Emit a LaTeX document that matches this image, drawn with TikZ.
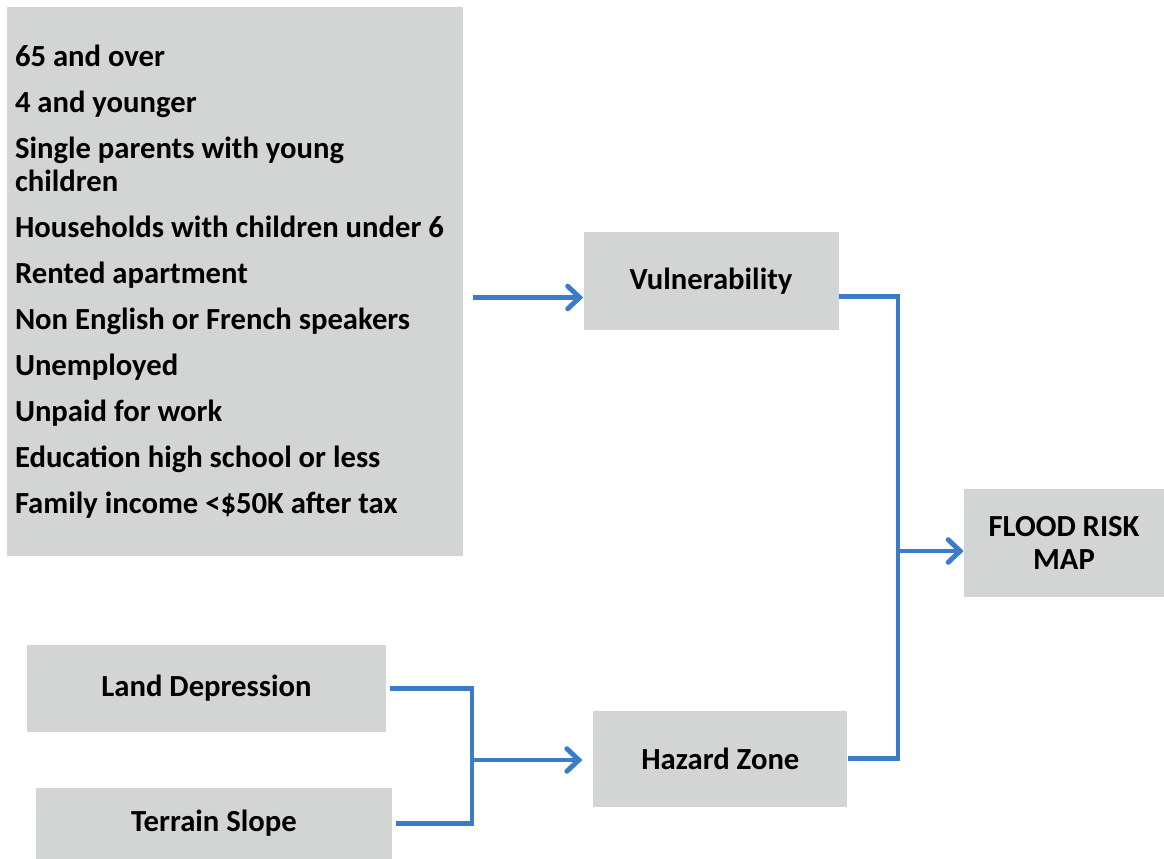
\documentclass[tikz,border=0pt]{standalone}
\usepackage{fontspec}
\setmainfont{Carlito}
\usetikzlibrary{arrows.meta,positioning}
\definecolor{boxgray}{RGB}{211,212,212}
\definecolor{linkblue}{RGB}{58,124,200}

\begin{document}
\begin{tikzpicture}[
    x=0.75pt, y=-0.75pt,
    every node/.style={font=\bfseries\fontsize{23}{24.75}\selectfont},
    box/.style={
        fill=boxgray,
        align=center,
        inner sep=6pt
    },
    link/.style={draw=linkblue, line width=3.7pt},
    arrow/.style={link, -{Straight Barb[length=9pt, width=17pt, line cap=round]}}
  ]
  \useasboundingbox (0,0) rectangle (1164,859);

  % Vulnerability indicators
  \node[box, align=flush left, text width=330pt, minimum height=411.75pt] (factors) at (235,281.5) {65 and over\\[9.75pt]
      4 and younger\\[9.75pt]
      Single parents with young\\children\\[9.75pt]
      Households with children under 6\\[9.75pt]
      Rented apartment\\[9.75pt]
      Non English or French speakers\\[9.75pt]
      Unemployed\\[9.75pt]
      Unpaid for work\\[9.75pt]
      Education high school or less\\[9.75pt]
      Family income <\$50K after tax};

  % Main components
  \node[box, right=90pt of factors, minimum width=191.25pt, minimum height=73.5pt] (vul) {Vulnerability};
  \node[box, below=284.6pt of vul, xshift=7pt, minimum width=190.5pt, minimum height=72pt] (hazard) {Hazard Zone};
  \node[box, minimum width=150pt, minimum height=81pt] (flood) at (1064,543) {FLOOD RISK\\MAP};

  % Hazard indicators
  \node[box, minimum width=269.25pt, minimum height=65.25pt] (land) at (206.5,688.5) {Land Depression};
  \node[box, below=41.25pt of land, xshift=5.6pt, minimum width=267pt, minimum height=54pt] (terrain) {Terrain Slope};

  % Junctions of the brackets
  \coordinate (jl) at (472,760);
  \coordinate (jr) at (898,551);

  % Connectors
  \draw[arrow] ([shift={(7pt,-12pt)}]factors.east) -- ([yshift=-12pt]vul.west);
  \draw[link, shorten <=3pt, shorten >=3pt] (land.east) -| (jl) |- (terrain.east);
  \draw[arrow, shorten >=8pt] (jl) -- (jl -| hazard.west);
  \draw[link] ([yshift=-11pt]vul.east) -| (jr) |- (hazard.east);
  \draw[arrow] (jr) -- (jr -| flood.west);

\end{tikzpicture}
\end{document}
